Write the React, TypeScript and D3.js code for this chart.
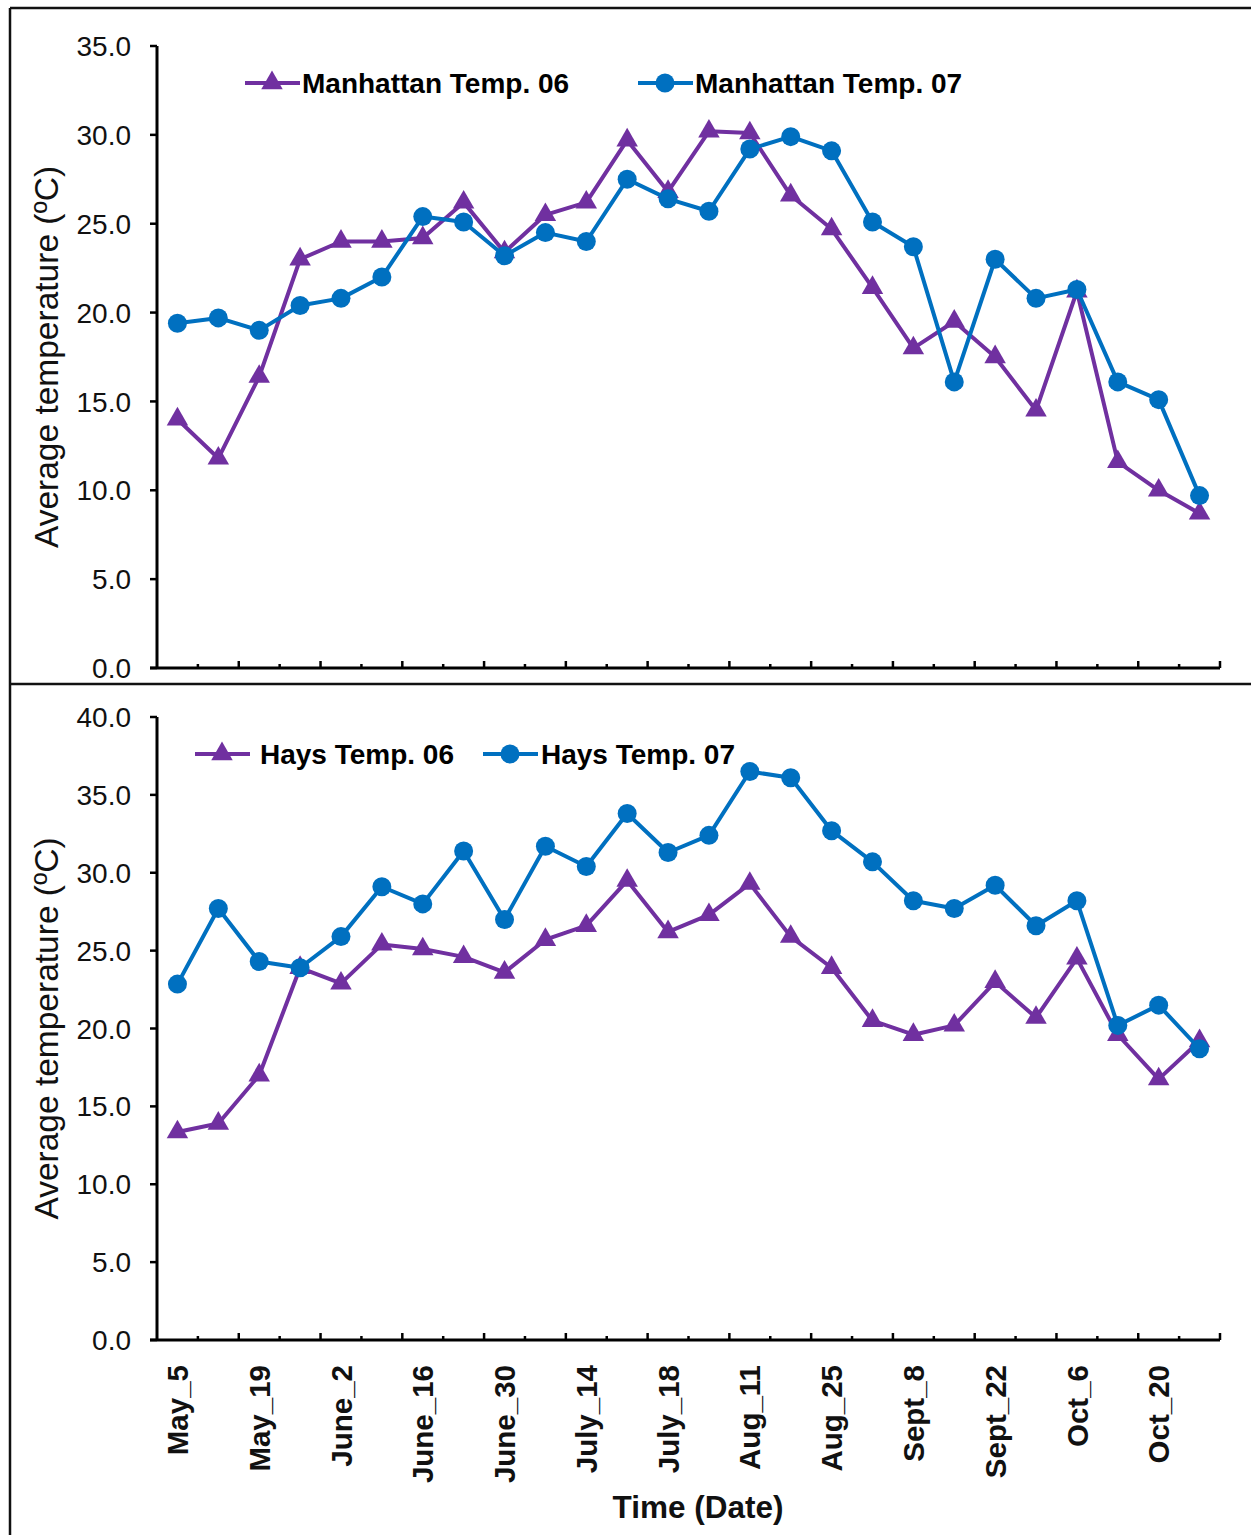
import React from "react";
import * as d3 from "d3";

// ---- Data ----
const categoryCount = 26;
const tickLabels = ["May_5", "May_19", "June_2", "June_16", "June_30", "July_14", "July_18", "Aug_11", "Aug_25", "Sept_8", "Sept_22", "Oct_6", "Oct_20"];

const manhattan06 = [14.0, 11.8, 16.4, 23.0, 24.0, 24.0, 24.2, 26.2, 23.4, 25.5, 26.2, 29.7, 26.8, 30.2, 30.1, 26.6, 24.7, 21.4, 18.0, 19.5, 17.5, 14.5, 21.2, 11.6, 10.0, 8.7];
const manhattan07 = [19.4, 19.7, 19.0, 20.4, 20.8, 22.0, 25.4, 25.1, 23.2, 24.5, 24.0, 27.5, 26.4, 25.7, 29.2, 29.9, 29.1, 25.1, 23.7, 16.1, 23.0, 20.8, 21.3, 16.1, 15.1, 9.7];
const hays06 = [13.35, 13.9, 17.0, 23.9, 22.9, 25.4, 25.1, 24.6, 23.6, 25.7, 26.6, 29.5, 26.2, 27.3, 29.3, 25.9, 23.9, 20.5, 19.6, 20.2, 23.0, 20.7, 24.5, 19.6, 16.75, 19.2];
const hays07 = [22.85, 27.7, 24.3, 23.9, 25.9, 29.1, 28.0, 31.4, 27.0, 31.7, 30.4, 33.8, 31.3, 32.4, 36.5, 36.1, 32.7, 30.7, 28.2, 27.7, 29.2, 26.6, 28.2, 20.2, 21.5, 18.7];

const topTicks = [0, 5, 10, 15, 20, 25, 30, 35];
const bottomTicks = [0, 5, 10, 15, 20, 25, 30, 35, 40];

const PURPLE = "#7030A0";
const BLUE = "#0070C0";
const FONT = "'Liberation Sans', Arial, sans-serif";

const indices = d3.range(categoryCount);
const x = d3.scaleBand<number>().domain(indices).range([157, 1220]).paddingInner(0).paddingOuter(0);
const cx = (i: number) => (x(i) as number) + x.bandwidth() / 2;

const triPath = d3.symbol().type(d3.symbolTriangle).size(200)() as string;

function Panel({ y0, y1, max, ticks, s06, s07, legend, legendX, legendTextX }: any) {
  const y = d3.scaleLinear().domain([0, max]).range([y0, y1]);
  const line = d3.line<number>().x((_, i) => cx(i)).y((d) => y(d));
  const xStart = 157, xEnd = 1220;
  const step = x.step();
  return (
    <g>
      {/* y axis */}
      <line x1={xStart} x2={xStart} y1={y(max)} y2={y(0)} stroke="#000" strokeWidth={3} />
      {ticks.map((t: number) => (
        <g key={t}>
          <line x1={xStart - 7} x2={xStart} y1={y(t)} y2={y(t)} stroke="#000" strokeWidth={2.5} />
          <text x={131} y={y(t)} dy="0.36em" textAnchor="end" fontFamily={FONT} fontSize={28} fill="#111">
            {d3.format(".1f")(t)}
          </text>
        </g>
      ))}
      {/* x axis */}
      <line x1={xStart - 7} x2={xEnd} y1={y(0)} y2={y(0)} stroke="#000" strokeWidth={3} />
      {d3.range(1, categoryCount + 1).map((k) => (
        <line key={k} x1={xStart + k * step} x2={xStart + k * step} y1={y(0)} y2={y(0) - (k % 2 === 0 ? 7 : 4)} stroke="#000" strokeWidth={2.5} />
      ))}
      {/* series */}
      <path d={line(s06) as string} fill="none" stroke={PURPLE} strokeWidth={4} strokeLinejoin="round" />
      {s06.map((v: number, i: number) => (
        <path key={i} d={triPath} transform={`translate(${cx(i)},${y(v)})`} fill={PURPLE} />
      ))}
      <path d={line(s07) as string} fill="none" stroke={BLUE} strokeWidth={4} strokeLinejoin="round" />
      {s07.map((v: number, i: number) => (
        <circle key={i} cx={cx(i)} cy={y(v)} r={9.5} fill={BLUE} />
      ))}
      {/* legend */}
      <g fontFamily={FONT} fontSize={28} fontWeight="bold">
        <line x1={legendX[0]} x2={legendX[0] + 55} y1={y1 + 37} y2={y1 + 37} stroke={PURPLE} strokeWidth={4} />
        <path d={triPath} transform={`translate(${legendX[0] + 27},${y1 + 37})`} fill={PURPLE} />
        <text x={legendTextX[0]} y={y1 + 37} dy="0.36em">{legend[0]}</text>
        <line x1={legendX[1]} x2={legendX[1] + 55} y1={y1 + 37} y2={y1 + 37} stroke={BLUE} strokeWidth={4} />
        <circle cx={legendX[1] + 27} cy={y1 + 37} r={9.5} fill={BLUE} />
        <text x={legendTextX[1]} y={y1 + 37} dy="0.36em">{legend[1]}</text>
      </g>
      {/* y label */}
      <text transform={`translate(46,${(y0 + y1) / 2}) rotate(-90)`} textAnchor="middle" dy="0.36em" fontFamily={FONT} fontSize={33.5} fill="#111">
        Average temperature (ºC)
      </text>
    </g>
  );
}

export default function App() {
  return (
    <svg width={1251} height={1535} style={{ position: "absolute", left: 0, top: 0, background: "#fff" }}>
      <rect x={0} y={0} width={1251} height={1535} fill="#fff" />
      {/* frames */}
      <line x1={10} x2={1251} y1={8} y2={8} stroke="#111" strokeWidth={2.5} />
      <line x1={10} x2={10} y1={8} y2={1535} stroke="#111" strokeWidth={2.5} />
      <line x1={10} x2={1251} y1={684} y2={684} stroke="#111" strokeWidth={2.5} />
      <Panel y0={668} y1={46} max={35} ticks={topTicks} s06={manhattan06} s07={manhattan07}
        legend={["Manhattan Temp. 06", "Manhattan Temp. 07"]} legendX={[245, 638]} legendTextX={[302, 695]} />
      <Panel y0={1340} y1={717} max={40} ticks={bottomTicks} s06={hays06} s07={hays07}
        legend={["Hays Temp. 06", "Hays Temp. 07"]} legendX={[195, 483]} legendTextX={[260, 541]} />
      {/* x tick labels */}
      {tickLabels.map((lab, j) => (
        <text key={lab} transform={`translate(${cx(j * 2)},1365) rotate(-90)`} textAnchor="end" dy="0.36em"
          fontFamily={FONT} fontSize={29.5} fontWeight="bold" fill="#111">
          {lab}
        </text>
      ))}
      <text x={698} y={1507} dy="0.36em" textAnchor="middle" fontFamily={FONT} fontSize={31.5} fontWeight="bold" fill="#111">
        Time (Date)
      </text>
    </svg>
  );
}
